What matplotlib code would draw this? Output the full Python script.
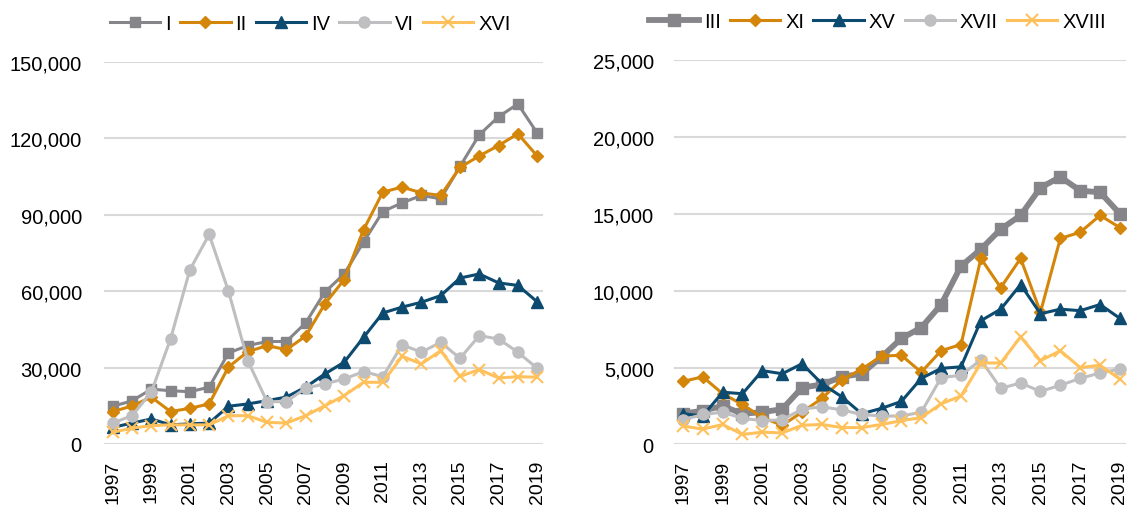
import matplotlib.pyplot as plt
import numpy as np

plt.rcParams['font.family'] = ['Liberation Sans', 'DejaVu Sans']

years = list(range(1997, 2020))

# left panel
s_I = [14800, 16900, 21500, 20900, 20500, 22300, 35700, 38600, 40200, 40200, 47500, 59600,
       66700, 79200, 91200, 94600, 97500, 96200, 108900, 121300, 128400, 133400, 122000]
s_II = [12700, 14900, 18400, 12700, 14000, 15700, 30200, 36200, 38600, 37000, 42300, 55000,
        64500, 84000, 98800, 100800, 98500, 97500, 108500, 113000, 117100, 121700, 113000]
s_IV = [6500, 8200, 9800, 7500, 7900, 8200, 14800, 15700, 17000, 18400, 22300, 27500,
        32100, 41800, 51400, 53700, 55600, 58200, 65100, 66700, 63200, 62200, 55800]
s_VI = [8200, 11100, 20300, 41200, 68300, 82200, 60000, 32700, 16600, 16600, 21900, 23600,
        25500, 28400, 26400, 38900, 36000, 39900, 33600, 42500, 41200, 36000, 29700]
s_XVI = [4600, 6200, 7200, 7500, 7500, 7500, 11100, 11100, 8500, 8200, 11100, 15000,
         19000, 24200, 24200, 34400, 31400, 36600, 26500, 29200, 25900, 26400, 26200]

# right panel
s_III = [2000, 2200, 2500, 2000, 2100, 2300, 3700, 3900, 4400, 4600, 5700, 6900,
         7600, 9100, 11600, 12700, 14000, 14900, 16700, 17400, 16500, 16400, 15000]
s_XI = [4100, 4400, 3300, 2600, 1750, 1250, 2100, 3000, 4200, 4900, 5750, 5800,
        4700, 6100, 6500, 12100, 10200, 12100, 8600, 13400, 13800, 14900, 14100]
s_XV = [2000, 1850, 3400, 3300, 4800, 4600, 5250, 3950, 3100, 2000, 2350, 2800,
        4300, 4950, 5050, 8050, 8800, 10400, 8500, 8800, 8700, 9100, 8200]
s_XVII = [1600, 1950, 2100, 1700, 1550, 1600, 2300, 2450, 2250, 1950, 1850, 1850,
          2100, 4350, 4500, 5500, 3650, 4000, 3450, 3850, 4300, 4650, 4900]
s_XVIII = [1200, 1000, 1300, 650, 800, 750, 1250, 1300, 1100, 1100, 1300, 1550,
           1750, 2650, 3150, 5300, 5300, 7000, 5450, 6100, 5000, 5150, 4250]

c_gray = '#86868a'
c_orange = '#d4860b'
c_navy = '#0d4a70'
c_light = '#bfbfc1'
c_yellow = '#ffc15c'

fig = plt.figure(figsize=(11.39, 5.06), dpi=100)
ax1 = fig.add_axes([0.0913, 0.1206, 0.3854, 0.7556])
ax2 = fig.add_axes([0.5917, 0.1196, 0.3968, 0.7598])

ax1.plot(years, s_I, color=c_gray, lw=2.2, marker='s', ms=7.5, label='I')
ax1.plot(years, s_II, color=c_orange, lw=2.2, marker='D', ms=6.5, label='II')
ax1.plot(years, s_IV, color=c_navy, lw=2.2, marker='^', ms=8.5, label='IV')
ax1.plot(years, s_VI, color=c_light, lw=2.2, marker='o', ms=8, label='VI')
ax1.plot(years, s_XVI, color=c_yellow, lw=2.2, marker='x', ms=9, mew=1.5, label='XVI')

ax2.plot(years, s_III, color=c_gray, lw=4.2, marker='s', ms=8, label='III')
ax2.plot(years, s_XI, color=c_orange, lw=2.2, marker='D', ms=6.5, label='XI')
ax2.plot(years, s_XV, color=c_navy, lw=2.2, marker='^', ms=8.5, label='XV')
ax2.plot(years, s_XVII, color=c_light, lw=2.2, marker='o', ms=8, label='XVII')
ax2.plot(years, s_XVIII, color=c_yellow, lw=2.2, marker='x', ms=9, mew=1.5, label='XVIII')

ax1.set_ylim(0, 150000)
ax1.set_yticks(np.arange(0, 150001, 30000))
ax2.set_ylim(0, 25000)
ax2.set_yticks(np.arange(0, 25001, 5000))

for ax, pad, lx in [(ax1, 16, 0.47), (ax2, 14.5, 0.45)]:
    ax.set_xlim(1996.55, 2019.3)
    ax.set_xticks(years[::2])
    ax.set_xticklabels([str(y) for y in years[::2]], rotation=90)
    ax.yaxis.set_major_formatter(plt.FuncFormatter(lambda v, p: f'{int(v):,}'))
    ax.tick_params(axis='y', length=0, pad=pad, labelsize=14.5)
    ax.tick_params(axis='x', length=0, pad=11, labelsize=14)
    for sp in ax.spines.values():
        sp.set_visible(False)
    ax.grid(axis='y', color='#d9d9d9', lw=1.5)
    ax.set_axisbelow(True)
    # legend sits above the plot area
    ax.legend(loc='center', bbox_to_anchor=(lx, 1.10), ncol=5, frameon=False,
              fontsize=14.5, handlelength=2.5, handletextpad=0.25, columnspacing=0.45,
              borderaxespad=0, borderpad=0)

fig.savefig('out.png', dpi=100)
